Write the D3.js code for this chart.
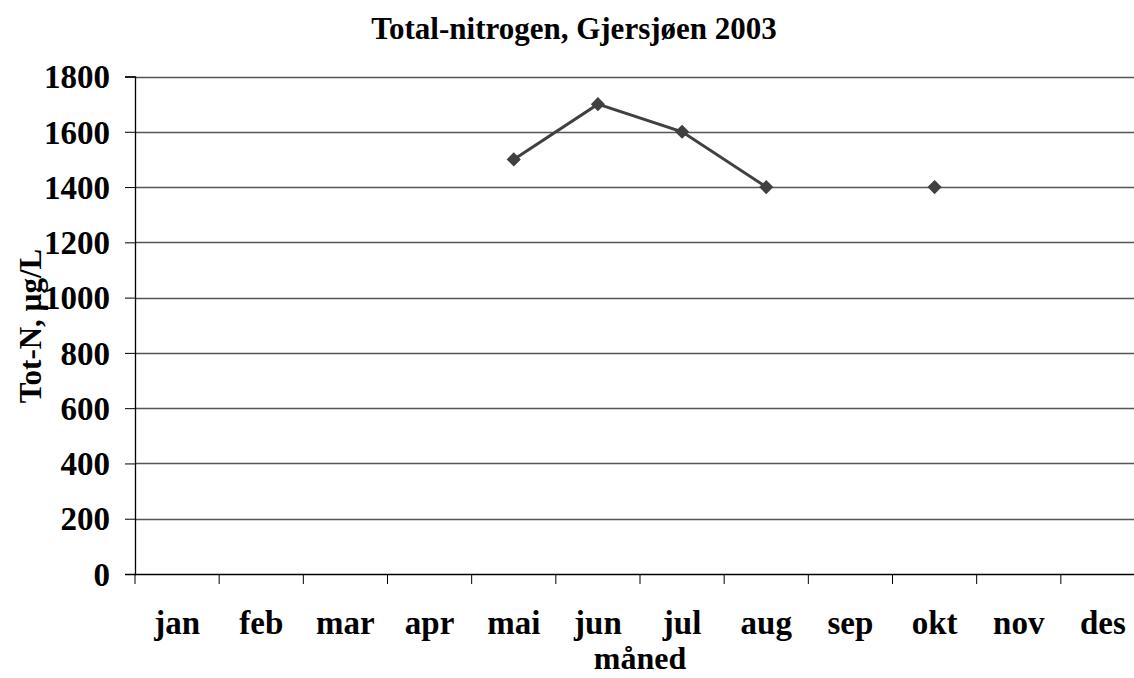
<!DOCTYPE html>
<html>
<head>
<meta charset="utf-8">
<script src="https://cdn.jsdelivr.net/npm/d3@7"></script>
<style>
  body { margin: 0; background: #fff; }
</style>
</head>
<body>
<svg></svg>
<script>
const width = 1134;
const height = 678;
const FONT = '"Liberation Serif", "Times New Roman", Times, "DejaVu Serif", serif';

// data
const months = ['jan', 'feb', 'mar', 'apr', 'mai', 'jun', 'jul', 'aug', 'sep', 'okt', 'nov', 'des'];
const totN = [null, null, null, null, 1500, 1700, 1600, 1400, null, 1400, null, null];
const yTicks = [0, 200, 400, 600, 800, 1000, 1200, 1400, 1600, 1800];

const margin = {left: 135, top: 76.5, bottom: 574};
const plotRight = 1145;

const svg = d3.select('svg')
    .attr('width', width).attr('height', height)
    .attr('font-family', FONT)
    .attr('font-weight', 'bold');

const x = d3.scaleBand()
    .domain(months)
    .range([margin.left, plotRight]);

const y = d3.scaleLinear()
    .domain([0, 1800])
    .range([margin.bottom, margin.top]);

// gridlines
svg.append('g')
    .selectAll('line')
    .data(yTicks.filter(d => d > 0))
    .enter().append('line')
    .attr('x1', margin.left).attr('x2', plotRight)
    .attr('y1', d => Math.round(y(d)) + 0.5).attr('y2', d => Math.round(y(d)) + 0.5)
    .style('stroke', '#555')
    .style('stroke-width', 1.3);

// y axis
const yAxis = svg.append('g')
    .attr('transform', `translate(${margin.left},0)`)
    .call(d3.axisLeft(y).tickValues(yTicks).tickSize(10).tickPadding(15).tickFormat(d3.format('d')));
yAxis.attr('font-family', FONT).attr('font-size', 33);
yAxis.selectAll('text').attr('dy', '0.34em').style('fill', '#000');

// x axis
const xAxis = svg.append('g')
    .attr('transform', `translate(0,${margin.bottom})`)
    .call(d3.axisBottom(x).tickSize(0).tickPadding(37));
xAxis.attr('font-family', FONT).attr('font-size', 33);
xAxis.selectAll('text').style('fill', '#000');
xAxis.select('.domain').attr('d', `M${margin.left},0.5H${plotRight}`);
xAxis.selectAll('.sep')
    .data(months.map((m, i) => margin.left + i * x.step()).concat([plotRight]))
    .enter().append('line')
    .attr('class', 'sep')
    .attr('x1', d => d).attr('x2', d => d)
    .attr('y1', 0).attr('y2', 10)
    .style('stroke', '#000');

svg.selectAll('.domain').style('stroke', '#000').style('stroke-width', 1.3);

// series line (gap where data is missing)
const line = d3.line()
    .defined(d => d.v !== null)
    .x(d => x(d.m) + x.bandwidth() / 2)
    .y(d => y(d.v));
const series = months.map((m, i) => ({m: m, v: totN[i]}));

svg.append('path')
    .datum(series)
    .attr('d', line)
    .style('fill', 'none')
    .style('stroke', '#404040')
    .style('stroke-width', 3);

svg.append('g')
    .selectAll('path')
    .data(series.filter(d => d.v !== null))
    .enter().append('path')
    .attr('d', d3.symbol().type(d3.symbolDiamond2).size(128))
    .attr('transform', d => `translate(${x(d.m) + x.bandwidth() / 2},${y(d.v)})`)
    .style('fill', '#404040');

// title and axis labels
svg.append('text')
    .attr('x', 574).attr('y', 39)
    .attr('text-anchor', 'middle')
    .attr('font-size', 31)
    .text('Total-nitrogen, Gjersjøen 2003');

svg.append('text')
    .attr('transform', 'translate(41,326) rotate(-90)')
    .attr('text-anchor', 'middle')
    .attr('font-size', 31)
    .text('Tot-N, µg/L');

svg.append('text')
    .attr('x', 640).attr('y', 669)
    .attr('text-anchor', 'middle')
    .attr('font-size', 32)
    .text('måned');
</script>
</body>
</html>
